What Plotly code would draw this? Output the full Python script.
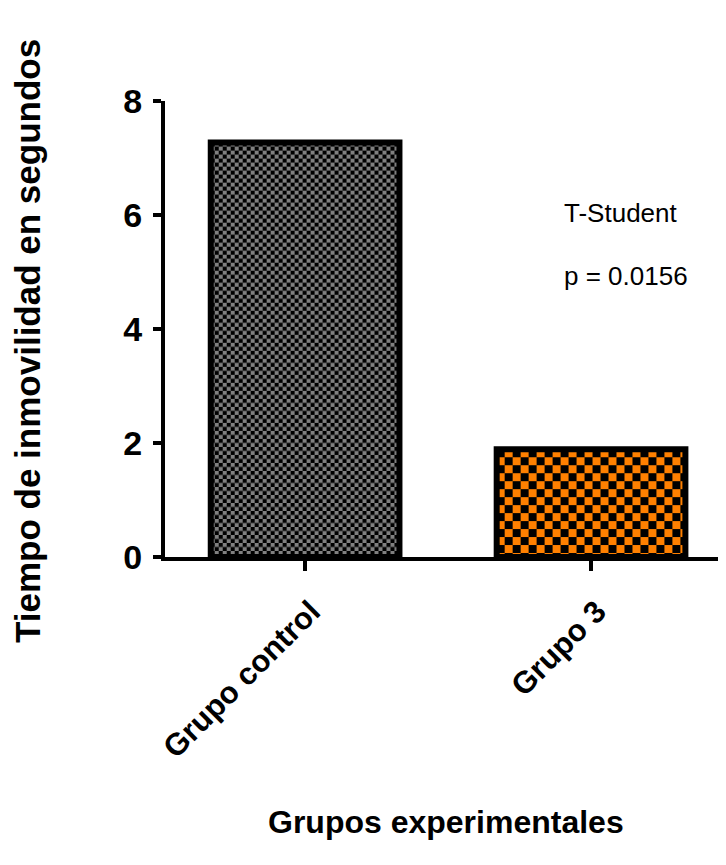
import base64
import plotly.graph_objects as go

# ---- data ----
categories = ["Grupo control", "Grupo 3"]
values = [7.27, 1.89]
y_tick_vals = [0, 2, 4, 6, 8]
y_tick_text = ["0", "2", "4", "6", "8"]
stat_test = "T-Student"
p_text = "p = 0.0156"

# ---- layout constants (screen pixel targets; page body has an 8px margin) ----
OFF = 8
SCREEN_W, SCREEN_H = 726, 865
PLOT_L, PLOT_R, PLOT_T, PLOT_B = 165, 726, 101, 557   # plot area on screen
W, H = SCREEN_W - OFF, SCREEN_H - OFF
ML = PLOT_L - OFF
MT = PLOT_T - OFF
MR = (SCREEN_W - OFF) - (PLOT_R - OFF)
MB = H - (PLOT_B - OFF)
X_RANGE = [-0.49, 1.472]
Y_RANGE = [0, 8]
BAR_W = 0.66
fill_colors = [("#808080", "#000000", 4), ("#FF8000", "#000000", 8)]

plot_w = PLOT_R - PLOT_L
plot_h = PLOT_B - PLOT_T
px_per_x = plot_w / (X_RANGE[1] - X_RANGE[0])
px_per_y = plot_h / (Y_RANGE[1] - Y_RANGE[0])


def checker_uri(w, h, sq, c1, c2):
    w = max(1, int(round(w)))
    h = max(1, int(round(h)))
    svg = (
        f'<svg xmlns="http://www.w3.org/2000/svg" width="{w}" height="{h}" '
        f'viewBox="0 0 {w} {h}" preserveAspectRatio="none">'
        f'<defs><pattern id="p" width="{2*sq}" height="{2*sq}" patternUnits="userSpaceOnUse">'
        f'<rect width="{2*sq}" height="{2*sq}" fill="{c1}"/>'
        f'<rect width="{sq}" height="{sq}" fill="{c2}"/>'
        f'<rect x="{sq}" y="{sq}" width="{sq}" height="{sq}" fill="{c2}"/>'
        f'</pattern></defs><rect width="{w}" height="{h}" fill="url(#p)"/></svg>'
    )
    return "data:image/svg+xml;base64," + base64.b64encode(svg.encode()).decode()


def px(xs):
    return (xs - PLOT_L) / plot_w


def py(ys):
    return (PLOT_B - ys) / plot_h


fig = go.Figure()
fig.add_trace(
    go.Bar(
        x=list(range(len(categories))),
        y=values,
        width=BAR_W,
        marker=dict(color="rgba(0,0,0,0)", line=dict(color="black", width=6)),
        hoverinfo="skip",
    )
)

images = []
for i, v in enumerate(values):
    c1, c2, sq = fill_colors[i]
    images.append(
        dict(
            source=checker_uri(BAR_W * px_per_x, v * px_per_y, sq, c1, c2),
            xref="x", yref="y",
            x=i - BAR_W / 2, y=v,
            sizex=BAR_W, sizey=v,
            xanchor="left", yanchor="top",
            sizing="stretch", layer="below",
        )
    )

FAM = "Liberation Sans, Arial, sans-serif"
font_bold = dict(family=FAM, color="black", weight="bold")

fig.update_layout(
    width=W, height=H,
    margin=dict(l=ML, r=MR, t=MT, b=MB, autoexpand=False),
    paper_bgcolor="white",
    plot_bgcolor="rgba(0,0,0,0)",
    showlegend=False,
    images=images,
    xaxis=dict(
        range=X_RANGE,
        automargin=False,
        tickvals=list(range(len(categories))),
        ticktext=categories,
        tickangle=-45,
        ticks="outside", ticklen=10, tickwidth=4, tickcolor="black",
        showline=True, linewidth=4, linecolor="black",
        showgrid=False, zeroline=False,
        ticklabelstandoff=10,
        ticklabelshift=6,
        tickfont=dict(size=31, **font_bold),
    ),
    yaxis=dict(
        range=Y_RANGE,
        automargin=False,
        tickvals=y_tick_vals,
        ticktext=y_tick_text,
        ticks="outside", ticklen=8, tickwidth=4, tickcolor="black",
        showline=True, linewidth=4, linecolor="black",
        showgrid=False, zeroline=False,
        ticklabelstandoff=4,
        tickfont=dict(size=34, **font_bold),
    ),
    annotations=[
        dict(text="Tiempo de inmovilidad en segundos", textangle=-90,
             xref="paper", yref="paper", x=px(27), y=py(341),
             xanchor="center", yanchor="middle", showarrow=False,
             font=dict(size=35, **font_bold)),
        dict(text="Grupos experimentales",
             xref="paper", yref="paper", x=px(446), y=py(822),
             xanchor="center", yanchor="middle", showarrow=False,
             font=dict(size=32, **font_bold)),
        dict(text=stat_test, xref="paper", yref="paper", x=px(562), y=py(213),
             xanchor="left", yanchor="middle", showarrow=False,
             font=dict(size=26, family=FAM, color="black")),
        dict(text=p_text, xref="paper", yref="paper", x=px(562), y=py(276),
             xanchor="left", yanchor="middle", showarrow=False,
             font=dict(size=26, family=FAM, color="black")),
    ],
)

fig.write_html("out.html")
